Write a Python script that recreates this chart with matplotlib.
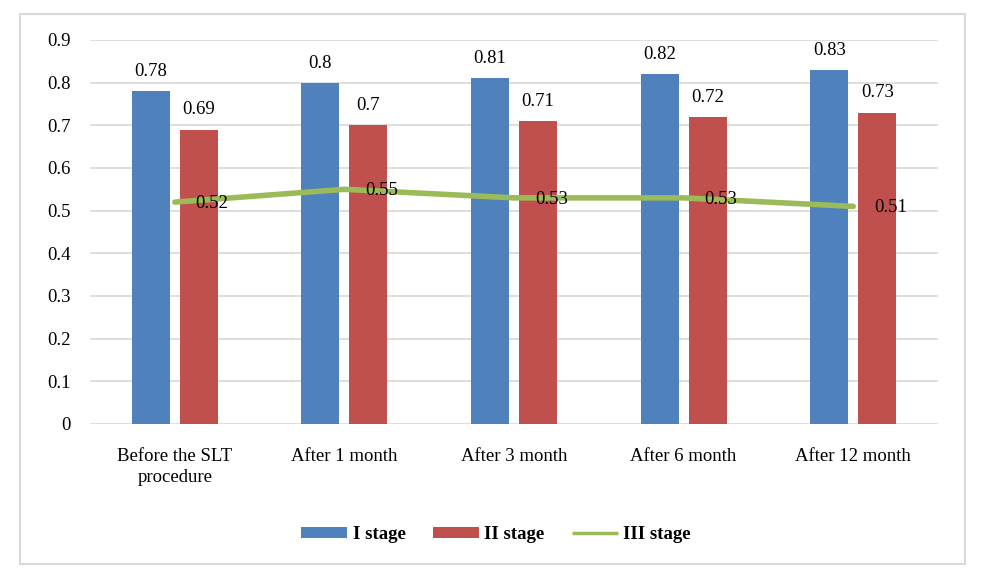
import matplotlib
matplotlib.use("Agg")
import matplotlib.pyplot as plt
import numpy as np
from matplotlib.patches import Rectangle
from matplotlib.lines import Line2D
from matplotlib.patches import Patch

categories = ["Before the SLT\nprocedure", "After 1 month", "After 3 month", "After 6 month", "After 12 month"]
stage1 = [0.78, 0.80, 0.81, 0.82, 0.83]
stage2 = [0.69, 0.70, 0.71, 0.72, 0.73]
stage3 = [0.52, 0.55, 0.53, 0.53, 0.51]
series_names = ["I stage", "II stage", "III stage"]
yticks = [0, 0.1, 0.2, 0.3, 0.4, 0.5, 0.6, 0.7, 0.8, 0.9]

plt.rcParams['font.family'] = ['Liberation Serif', 'DejaVu Serif']

W, H = 989, 586
fig = plt.figure(figsize=(W / 100, H / 100), dpi=100)
fig.patch.set_facecolor('white')

# outer border
fig.patches.append(Rectangle((20 / W, 1 - 564 / H), (965 - 20) / W, (564 - 14) / H,
                             transform=fig.transFigure, fill=False,
                             edgecolor='#D9D9D9', linewidth=1.5))

ax = fig.add_axes([90 / W, 1 - 424 / H, (938 - 90) / W, (424 - 40) / H])
x = np.arange(len(categories))
bw = 0.224
off = 0.1415
c1, c2, c3 = '#4F81BD', '#C0504D', '#9BBB59'

ax.bar(x - off, stage1, width=bw, color=c1, zorder=2)
ax.bar(x + off, stage2, width=bw, color=c2, zorder=2)
ax.plot(x, stage3, color=c3, linewidth=4, solid_capstyle='round',
        solid_joinstyle='round', zorder=3)

fs = 13.5
for xi, v in zip(x, stage1):
    ax.annotate(f"{v:g}", (xi - off, v), xytext=(0, 8), textcoords='offset points',
                ha='center', va='bottom', fontsize=fs, zorder=4)
for xi, v in zip(x, stage2):
    ax.annotate(f"{v:g}", (xi + off, v), xytext=(0, 8), textcoords='offset points',
                ha='center', va='bottom', fontsize=fs, zorder=4)
for xi, v in zip(x, stage3):
    ax.annotate(f"{v:g}", (xi, v), xytext=(15, -1), textcoords='offset points',
                ha='left', va='center', fontsize=fs, zorder=4)

ax.set_xlim(-0.5, len(categories) - 0.5)
ax.set_ylim(0, 0.9)
ax.set_yticks(yticks)
ax.set_yticklabels([f"{t:g}" for t in yticks], fontsize=fs)
ax.set_xticks(x)
ax.set_xticklabels(categories, fontsize=fs, linespacing=1.35)
ax.tick_params(axis='both', length=0, pad=14)
ax.tick_params(axis='x', pad=17)
ax.yaxis.grid(True, color='#D9D9D9', linewidth=1.2, zorder=0)
ax.set_axisbelow(True)
for s in ax.spines.values():
    s.set_visible(False)

handles = [Patch(facecolor=c1), Patch(facecolor=c2),
           Line2D([0], [0], color=c3, linewidth=2.5, solid_capstyle='butt')]
leg = fig.legend(handles, series_names, loc='center', bbox_to_anchor=(496 / W, 1 - 534.5 / H),
                 ncol=3, frameon=False, prop={'weight': 'bold', 'size': fs},
                 handlelength=2.45, handleheight=0.53, columnspacing=1.45, handletextpad=0.3)

fig.savefig("out.png", dpi=100, facecolor='white')
